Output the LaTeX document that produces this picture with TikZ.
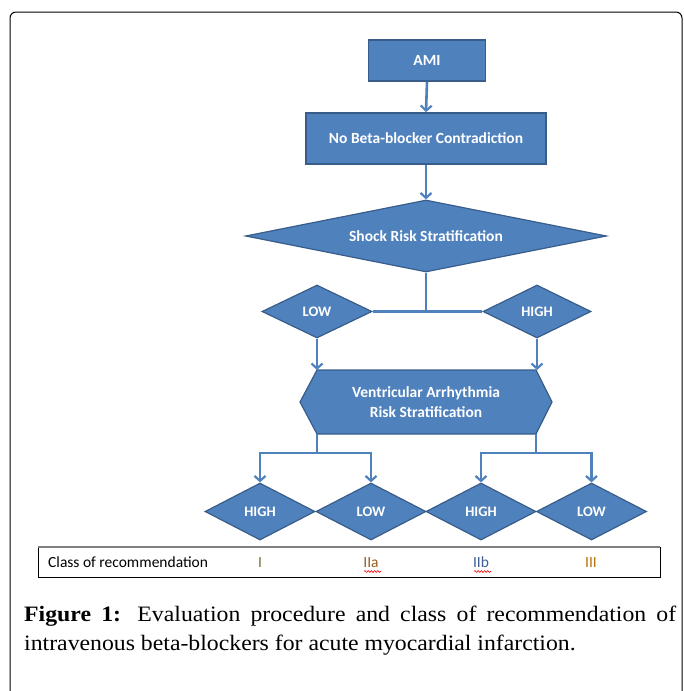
\documentclass[tikz,border=0pt]{standalone}
\usepackage{fontspec}
\setmainfont[FakeStretch=1.08]{Liberation Serif}
\newfontfamily\calibri{Carlito}
\usetikzlibrary{shapes.geometric,arrows.meta,decorations.pathmorphing}
\definecolor{boxfill}{HTML}{4F81BD}
\definecolor{boxline}{HTML}{385D8A}
\definecolor{cI}{HTML}{7A7040}
\definecolor{cIIa}{HTML}{9A5A20}
\definecolor{cIIb}{HTML}{3F5F95}
\definecolor{cIII}{HTML}{B8720A}
\tikzset{
  flowbox/.style={rectangle, fill=boxfill, draw=boxline, line width=1.8pt, text=white,
    font=\calibri\bfseries\fontsize{15.5}{19}\selectfont, inner sep=0pt},
  flowdia/.style={diamond, fill=boxfill, draw=boxline, line width=1.2pt, text=white,
    font=\calibri\bfseries\fontsize{14.5}{17}\selectfont, inner sep=0pt},
  conn/.style={draw=boxfill, line width=2.6pt},
  connarrow/.style={conn, -{Straight Barb[length=5pt,width=11pt,line width=2.2pt]}},
  classtext/.style={font=\calibri\fontsize{15.5}{18}\selectfont, anchor=base, inner sep=0pt},
  wavy/.style={draw=red, line width=0.6pt, decorate, decoration={snake, amplitude=0.9pt, segment length=3.2pt}}
}
\begin{document}
\begin{tikzpicture}[x=1pt,y=-1pt]
\useasboundingbox (0,0) rectangle (683,691);
% outer frame
\draw[line width=1pt, rounded corners=6pt] (10,720) -- (10,12) -- (682,12) -- (682,720);

% nodes
\node[flowbox, minimum width=117pt, minimum height=41pt] (ami) at (427,60.5) {AMI};
\node[flowbox, minimum width=240pt, minimum height=51pt] (nobeta) at (426,138.5) {No Beta-blocker Contradiction};
\node[flowdia, font=\calibri\bfseries\fontsize{15.5}{19}\selectfont, minimum width=361pt, minimum height=72pt, aspect=5] (shock) at (426,236) {Shock Risk Stratification};
\node[flowdia, minimum width=110pt, minimum height=53pt, aspect=2] (low) at (317,311.5) {LOW};
\node[flowdia, minimum width=108pt, minimum height=53pt, aspect=2] (high) at (537,311.5) {HIGH};

% hexagon
\node[minimum width=252pt, minimum height=64pt, inner sep=0pt] (hex) at (426,402) {};
\draw[fill=boxfill, draw=boxline, line width=1.2pt]
  (317,370) -- (536,370) -- (552,402) -- (536,434) -- (317,434) -- (300,402) -- cycle;
\node[align=center, text=white, font=\calibri\bfseries\fontsize{15.5}{20}\selectfont] (hextext) at (hex.center)
  {Ventricular Arrhythmia\\Risk Stratification};

\node[flowdia, minimum width=110pt, minimum height=57pt, aspect=2] (d1) at (260,511.5) {HIGH};
\node[flowdia, minimum width=110pt, minimum height=57pt, aspect=2] (d2) at (371,511.5) {LOW};
\node[flowdia, minimum width=110pt, minimum height=57pt, aspect=2] (d3) at (481,511.5) {HIGH};
\node[flowdia, minimum width=110pt, minimum height=57pt, aspect=2] (d4) at (591.5,511.5) {LOW};

% connectors
\draw[connarrow] (ami.south) -- (nobeta.north);
\draw[connarrow] (nobeta.south) -- (shock.north);
\coordinate (mid) at (426,310);
\draw[conn] (shock.south) -- (mid);
\draw[conn] (low.east) -- (high.west);
\draw[connarrow] (low.south) -- (low.south |- 0,370);
\draw[connarrow] (high.south) -- (high.south |- 0,370);
\coordinate (j1) at (317,453);
\coordinate (j2) at (536,453);
\draw[conn] (317,434) -- (j1);
\draw[conn] (536,434) -- (j2);
\draw[connarrow] (j1) -| (d1.north);
\draw[connarrow] (j1) -| (d2.north);
\draw[connarrow] (j2) -| (d3.north);
\draw[connarrow] (j2) -| (d4.north);

% class bar
\node[draw=black, line width=0.9pt, minimum width=622pt, minimum height=30pt, inner sep=0pt] (bar) at (349,562) {};
\draw[draw=gray, line width=2pt] (bar.north west) -- (bar.north east);
\node[classtext, anchor=base west] (cls) at (48,567.5) {Class of recommendation};
\node[classtext, text=cI] (k1) at (260,567.5) {I};
\node[classtext, text=cIIa] (k2) at (371,567.5) {IIa};
\node[classtext, text=cIIb] (k3) at (481,567.5) {IIb};
\node[classtext, text=cIII] (k4) at (591,567.5) {III};
\draw[wavy] (364,571.5) -- (381,571.5);
\draw[wavy] (474,571.5) -- (491,571.5);

% caption
\node[anchor=north west, inner sep=0pt, text width=652pt, align=justify,
  font=\fontsize{22}{29}\selectfont] (cap) at (24,605.5)
  {\textbf{Figure 1:} Evaluation procedure and class of recommendation of\linebreak intravenous beta-blockers for acute myocardial infarction.};
\end{tikzpicture}
\end{document}
